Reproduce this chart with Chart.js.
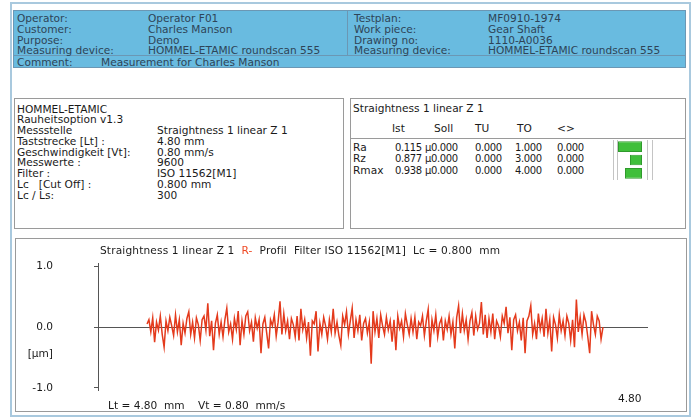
<!DOCTYPE html>
<html><head><meta charset="utf-8">
<script src="https://cdn.jsdelivr.net/npm/chart.js@4.4.1/dist/chart.umd.min.js"></script>
<style>
body{margin:0;background:#fff;}
#wrap{position:relative;width:692px;height:418px;overflow:hidden;font-family:"DejaVu Sans",sans-serif;font-size:10.6px;color:#1a1a1a;}
.t{position:absolute;white-space:pre;line-height:11px;}
.num{font-size:10px;letter-spacing:-0.4px;}
.box{position:absolute;box-sizing:border-box;}
canvas{position:absolute;}
</style></head><body>
<div id="wrap">
  <div class="box" style="left:10px;top:2px;width:681px;height:415px;border:2px solid #a9c9de;"></div>
  <div class="box" id="hdr" style="left:13px;top:10px;width:673px;height:58px;background:#69bbe0;border:1px solid #6b97b4;"></div>
  <div class="box" style="left:13px;top:55px;width:673px;height:1px;background:#6b97b4;"></div>
  <div class="box" style="left:347px;top:10px;width:1px;height:46px;background:#6b97b4;"></div>
  <div class="box" style="left:14px;top:98px;width:330px;height:131px;border:1px solid #9a9a9a;background:#fff;"></div>
  <div class="box" style="left:350px;top:98px;width:336px;height:131px;border:1px solid #9a9a9a;background:#fff;"></div>
  <div class="box" style="left:350px;top:138px;width:336px;height:1px;background:#9a9a9a;"></div>
  <div class="box" style="left:15px;top:238px;width:672px;height:174px;border:1px solid #9a9a9a;background:#fff;"></div>
  <canvas id="gauge" width="42" height="40" style="left:612px;top:140px;"></canvas>
  <canvas id="prof" width="692" height="173" style="left:0px;top:238px;"></canvas>
</div>
<script>
// ---------- header data ----------
const headLeftLabels = ['Operator:', 'Customer:', 'Purpose:', 'Measuring device:'];
const headLeftValues = ['Operator F01', 'Charles Manson', 'Demo', 'HOMMEL-ETAMIC roundscan 555'];
const headRightLabels = ['Testplan:', 'Work piece:', 'Drawing no:', 'Measuring device:'];
const headRightValues = ['MF0910-1974', 'Gear Shaft', '1110-A0036', 'HOMMEL-ETAMIC roundscan 555'];
const commentLabel = 'Comment:';
const commentValue = 'Measurement for Charles Manson';

// ---------- info panel ----------
const infoLabels = ['HOMMEL-ETAMIC', 'Rauheitsoption v1.3', 'Messstelle', 'Taststrecke [Lt] :', 'Geschwindigkeit [Vt]:', 'Messwerte :', 'Filter :', 'Lc   [Cut Off] :', 'Lc / Ls:'];
const infoValues = ['', '', 'Straightness 1 linear Z 1', '4.80 mm', '0.80 mm/s', '9600', 'ISO 11562[M1]', '0.800 mm', '300'];

// ---------- results panel ----------
const resultTitle = 'Straightness 1 linear Z 1';
const resultColumns = ['Ist', 'Soll', 'TU', 'TO', '<>'];
const resultParams = ['Ra', 'Rz', 'Rmax'];
const resultIst = ['0.115', '0.877', '0.938'];
const resultSoll = ['µ0.000', 'µ0.000', 'µ0.000'];
const resultTU = ['0.000', '0.000', '0.000'];
const resultTO = ['1.000', '3.000', '4.000'];
const resultDiff = ['0.000', '0.000', '0.000'];
const gaugeStart = [6, 18, 13];
const gaugeEnd = [30, 30, 30];

// ---------- profile chart ----------
const chartTitleA = 'Straightness 1 linear Z 1  ';
const chartTitleB = 'R-';
const chartTitleC = '  Profil  Filter ISO 11562[M1]  Lc = 0.800  mm';
const yTicks = [-1, 0, 1];
const yTickLabels = ['-1.0', '0.0', '1.0'];
const yUnit = '[µm]';
const xEndLabel = '4.80';
const footText = 'Lt = 4.80  mm    Vt = 0.80  mm/s';
const profileStep = 0.02; // mm between read points
const profileValues = [
  0.05, 0.12, -0.08, 0.15, -0.25, 0.08, -0.05, 0.18, -0.12, -0.33,
  0.10, -0.06, 0.16, 0.02, -0.14, 0.20, -0.08, 0.12, -0.30, 0.06,
  -0.10, 0.14, 0.25, -0.12, 0.08, -0.18, 0.15, 0.04, -0.22, 0.12,
  0.18, -0.05, 0.39, -0.15, 0.10, -0.38, 0.06, 0.20, -0.12, 0.08,
  -0.16, 0.12, 0.31, -0.08, 0.05, -0.20, 0.14, -0.04, 0.26, -0.30,
  0.10, -0.12, 0.18, 0.25, -0.06, 0.08, -0.24, 0.15, -0.02, 0.12,
  -0.43, 0.05, 0.16, -0.10, -0.35, 0.12, 0.02, 0.20, -0.15, 0.08,
  0.42, -0.12, 0.22, -0.06, 0.10, -0.20, 0.14, 0.04, -0.16, 0.18,
  -0.22, 0.30, -0.04, 0.12, -0.18, 0.08, -0.47, 0.10, 0.05, 0.26,
  -0.40, 0.06, -0.12, 0.16, 0.02, -0.20, 0.12, -0.08, 0.30, -0.10,
  0.08, -0.14, -0.30, 0.18, 0.04, 0.25, -0.12, 0.10, 0.31, -0.18,
  0.12, -0.06, 0.20, -0.22, 0.06, 0.14, -0.10, 0.08, -0.60, 0.26,
  -0.08, 0.14, -0.18, 0.20, 0.02, -0.12, 0.16, -0.05, 0.10, -0.24,
  0.12, -0.38, 0.18, -0.02, 0.10, -0.16, 0.22, 0.04, -0.12, 0.14,
  -0.08, 0.16, -0.20, 0.08, 0.02, 0.18, -0.14, 0.10, 0.29, -0.33,
  0.12, -0.06, 0.20, -0.16, 0.06, 0.14, -0.22, 0.10, -0.04, 0.18,
  -0.12, 0.08, -0.35, 0.16, 0.35, -0.10, 0.22, -0.06, 0.12, -0.20,
  0.10, 0.24, -0.14, 0.18, -0.04, 0.06, 0.41, -0.12, 0.20, -0.18,
  0.14, -0.08, 0.22, -0.20, 0.10, 0.02, -0.16, 0.18, 0.06, 0.33,
  -0.10, 0.16, -0.38, 0.12, 0.20, -0.06, 0.08, -0.22, 0.15, -0.43,
  0.10, 0.18, 0.35, -0.12, 0.06, -0.20, 0.22, -0.04, 0.14, -0.16,
  0.30, -0.10, 0.12, -0.40, 0.16, 0.04, -0.18, 0.20, -0.06, 0.10,
  -0.14, 0.18, 0.06, -0.22, 0.12, -0.33, 0.45, -0.08, 0.16, -0.12,
  0.20, 0.08, -0.16, -0.43, 0.26, 0.04, -0.12, 0.18, 0.10, -0.20,
  0.00
];

const wrap = document.getElementById('wrap');
function txt(x, yc, s, style, cls) {
  const d = document.createElement('div');
  d.className = 't' + (cls ? ' ' + cls : '');
  d.style.left = x + 'px';
  d.style.top = (yc - 5.5) + 'px';
  d.textContent = s;
  if (style) Object.assign(d.style, style);
  wrap.appendChild(d);
  return d;
}
const hdrColor = {color: '#2e4457'};
const hdrRows = [18, 29, 40, 50.5];
headLeftLabels.forEach((s, i) => txt(17, hdrRows[i], s, hdrColor));
headLeftValues.forEach((s, i) => txt(148, hdrRows[i], s, hdrColor));
headRightLabels.forEach((s, i) => txt(354, hdrRows[i], s, hdrColor));
headRightValues.forEach((s, i) => txt(488, hdrRows[i], s, hdrColor));
txt(17, 62, commentLabel, hdrColor);
txt(101, 62, commentValue, hdrColor);

infoLabels.forEach((s, i) => txt(17, 109 + i * 10.75, s));
infoValues.forEach((s, i) => { if (s) txt(157, 109 + i * 10.75, s); });

txt(353, 108.5, resultTitle);
const colX = [392, 434, 475, 517, 557];
resultColumns.forEach((s, i) => txt(colX[i], 128, s));
const rowY = [147, 158.5, 170];
resultParams.forEach((s, i) => {
  txt(353, rowY[i], s);
  txt(395, rowY[i], resultIst[i], null, 'num');
  txt(425, rowY[i], resultSoll[i], null, 'num');
  txt(475, rowY[i], resultTU[i], null, 'num');
  txt(515, rowY[i], resultTO[i], null, 'num');
  txt(557, rowY[i], resultDiff[i], null, 'num');
});

// chart texts
const title = txt(100, 250, chartTitleA, {letterSpacing: '0.15px'});
const red = document.createElement('span'); red.textContent = chartTitleB; red.style.color = '#ef4a25';
title.appendChild(red);
title.appendChild(document.createTextNode(chartTitleC));
const unitDiv = txt(0, 353, yUnit); unitDiv.style.left = 'auto'; unitDiv.style.right = (692 - 53) + 'px';
txt(618, 398, xEndLabel);
txt(108, 405, footText);

// gauge bars
new Chart(document.getElementById('gauge'), {
  type: 'bar',
  data: {
    labels: resultParams,
    datasets: [{
      data: gaugeStart.map((s, i) => [s, gaugeEnd[i]]),
      backgroundColor: '#3fbf3a',
      borderColor: '#2f9a2c',
      borderWidth: 1,
      borderSkipped: false,
      barPercentage: 1,
      categoryPercentage: 0.8
    }]
  },
  options: {
    indexAxis: 'y', responsive: false, animation: false,
    layout: {padding: 0, autoPadding: false},
    plugins: {legend: {display: false}, tooltip: {enabled: false}},
    scales: {
      x: {min: 0, max: 42, display: true,
          afterBuildTicks: s => { s.ticks = [1, 5, 35, 40].map(v => ({value: v})); },
          ticks: {display: false}, border: {display: false},
          grid: {color: '#c4c4c4', drawTicks: false, lineWidth: 1}},
      y: {display: false}
    }
  }
});

// profile chart
new Chart(document.getElementById('prof'), {
  type: 'line',
  data: {
    datasets: [{
      data: profileValues.map((v, i) => ({x: +(i * profileStep).toFixed(3), y: v})),
      borderColor: '#e43a1c',
      borderWidth: 1.5,
      pointRadius: 0,
      tension: 0,
      fill: false
    }]
  },
  options: {
    responsive: false, animation: false,
    layout: {padding: {left: 0, top: 25, right: 44, bottom: 21}, autoPadding: false},
    plugins: {legend: {display: false}, tooltip: {enabled: false}, title: {display: false}},
    scales: {
      x: {type: 'linear', display: false, min: -0.516, max: 5.274},
      y: {
        type: 'linear', min: -1.033, max: 1.05,
        afterFit: s => { s.width = 98; s.paddingTop = 0; s.paddingBottom = 0; },
        afterBuildTicks: s => { s.ticks = yTicks.map(v => ({value: v})); },
        ticks: {
          padding: 41, color: '#1a1a1a',
          font: {family: 'DejaVu Sans', size: 10.6},
          callback: v => yTickLabels[yTicks.indexOf(v)]
        },
        grid: {
          color: c => (c.tick && c.tick.value === 0) ? '#555' : 'rgba(0,0,0,0)',
          tickColor: '#555', tickLength: 4, drawOnChartArea: true
        },
        border: {display: true, color: '#555', width: 1}
      }
    }
  }
});
</script>
</body></html>
